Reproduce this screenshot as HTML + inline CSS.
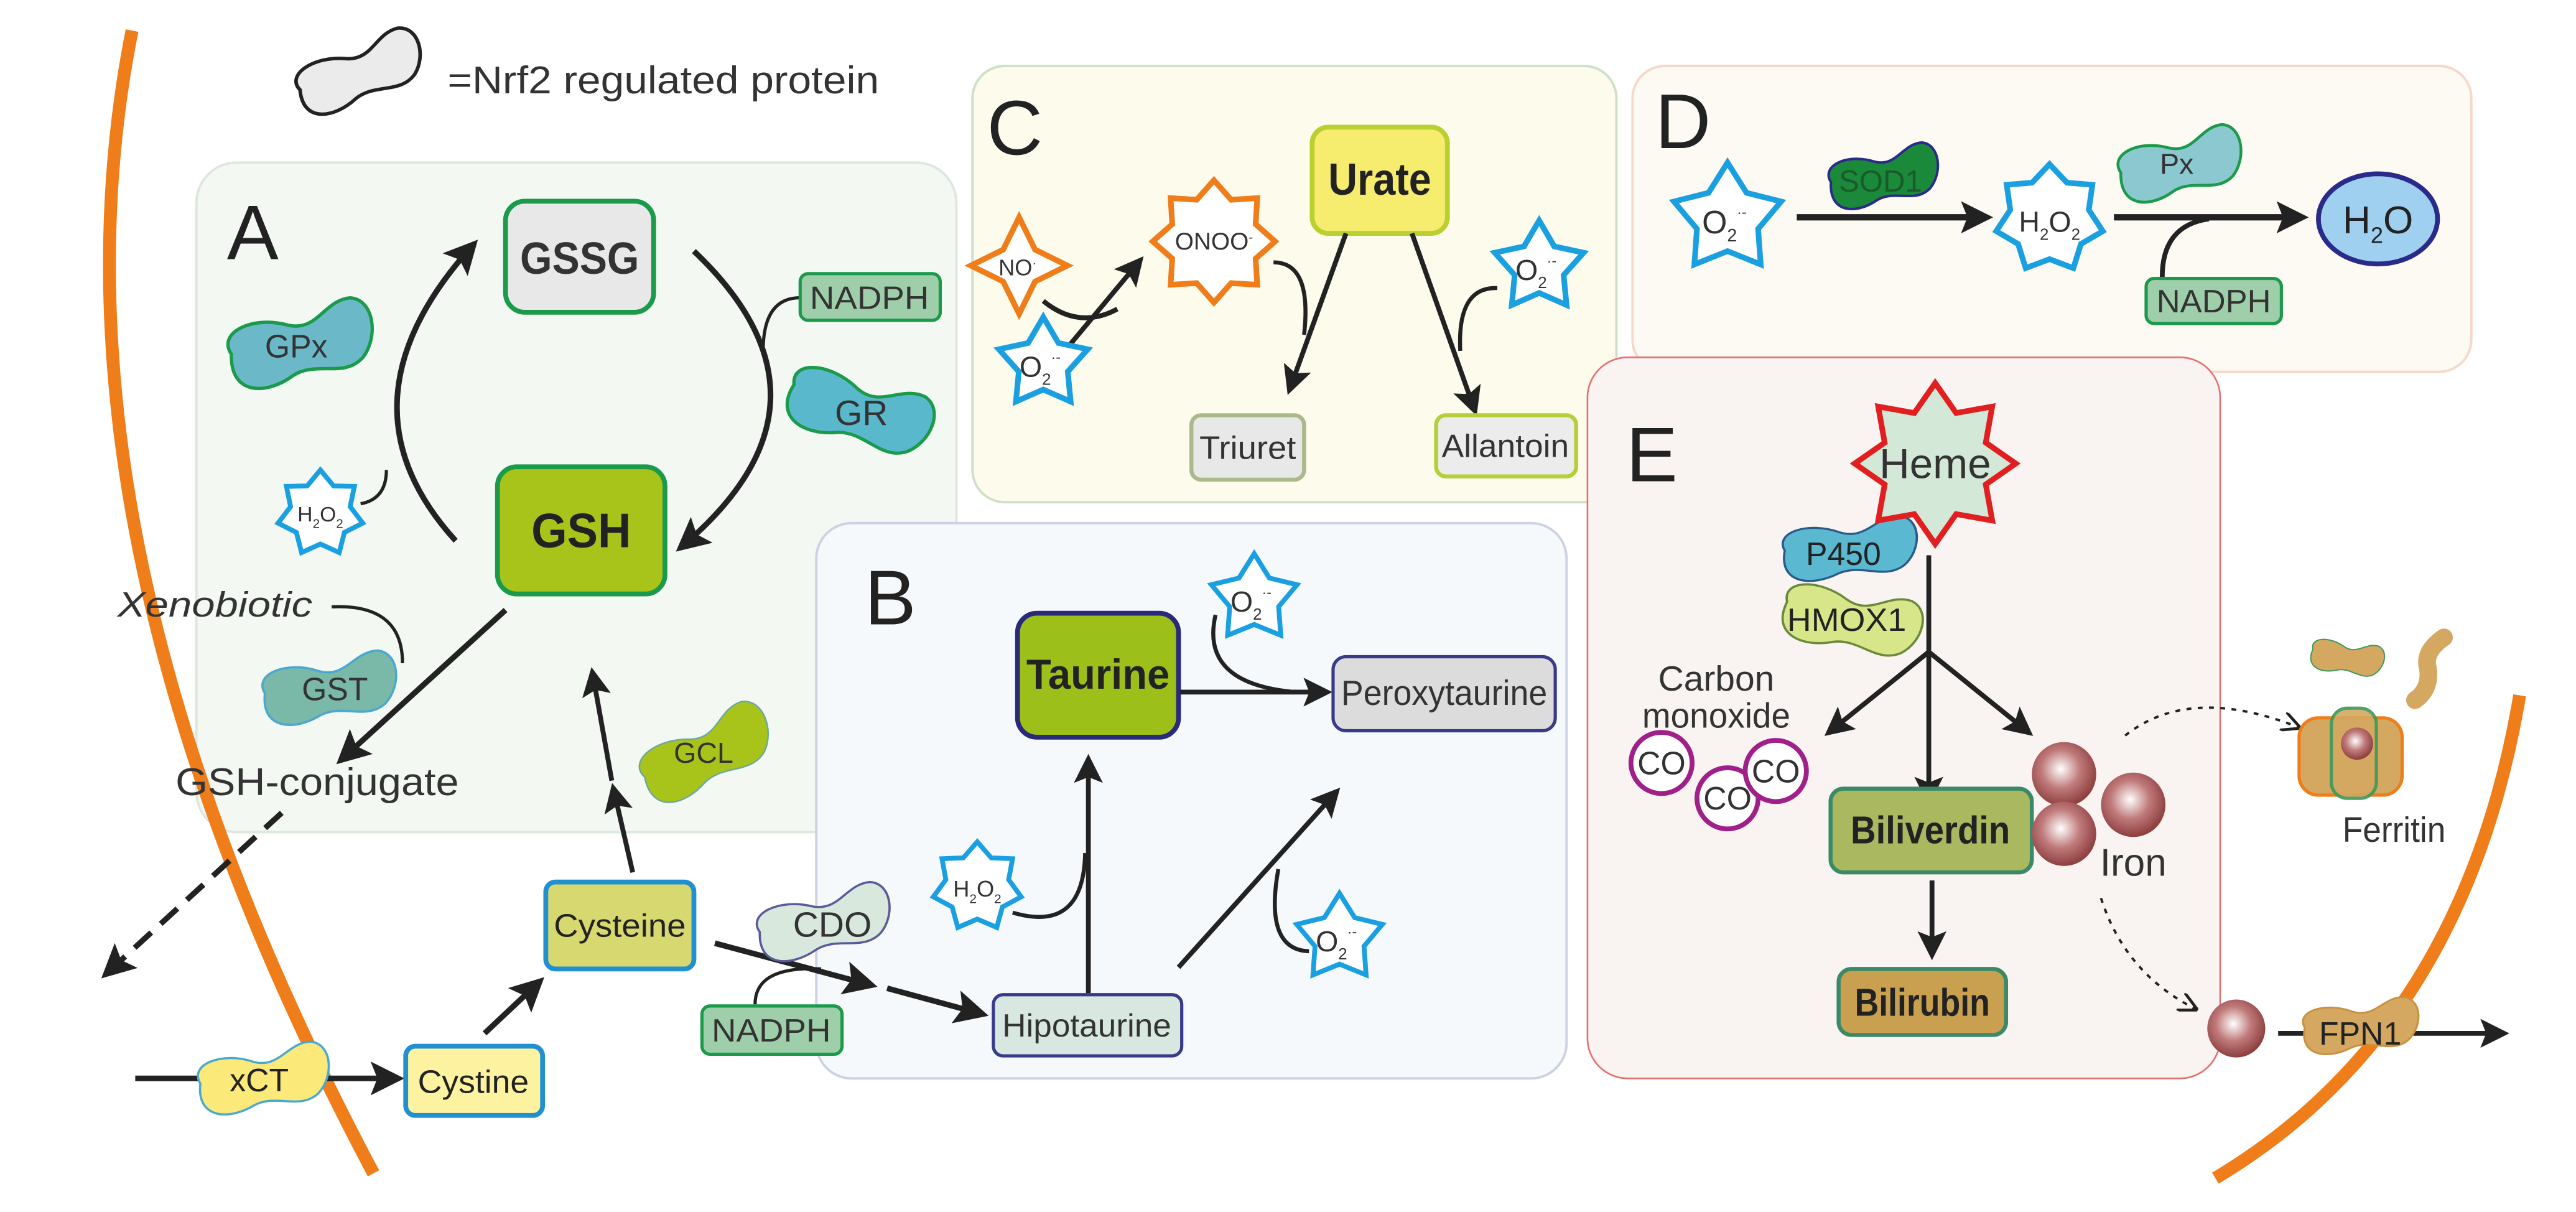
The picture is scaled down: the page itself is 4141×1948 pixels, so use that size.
<!DOCTYPE html>
<html><head><meta charset="utf-8"><style>
html,body{margin:0;padding:0;background:#fff;}
svg{display:block;font-family:"Liberation Sans",Arial,sans-serif;}
</style></head><body>
<svg id="s" width="4141" height="1948" viewBox="0 0 1600 753" preserveAspectRatio="none" xmlns="http://www.w3.org/2000/svg">
<defs>
<marker id="ah" viewBox="0 0 10 10" refX="8" refY="5" markerWidth="6" markerHeight="6" orient="auto" markerUnits="strokeWidth"><path d="M0,0 L10,5 L0,10 L2,5 Z" fill="#222"/></marker>
<marker id="ahs" viewBox="0 0 10 10" refX="8" refY="5" markerWidth="5" markerHeight="5" orient="auto" markerUnits="strokeWidth"><path d="M0,0 L10,5 L0,10 L2,5 Z" fill="#222"/></marker>
<marker id="ahd" viewBox="0 0 10 10" refX="9" refY="5" markerWidth="8" markerHeight="8" orient="auto" markerUnits="strokeWidth"><path d="M0,0 L10,5 L0,10" fill="none" stroke="#222" stroke-width="1.5"/></marker>
<radialGradient id="fe" cx="0.45" cy="0.42" r="0.6"><stop offset="0" stop-color="#fff"/><stop offset="0.5" stop-color="#c07a7a"/><stop offset="1" stop-color="#8a3a3a"/></radialGradient>
<path id="blob" d="M8,22 C2,8 25,2 45,12 C62,20 70,2 86,4 C100,8 98,30 86,40 C72,50 58,36 42,42 C24,50 2,46 8,22 Z"/>
</defs>

<rect x="122" y="101" width="472" height="416" rx="25" fill="#f3f8f3" stroke="#dde8dd" stroke-width="1.5"/>
<rect x="507" y="325" width="466" height="345" rx="22" fill="#f5f9fc" stroke="#cdd2e3" stroke-width="1.5"/>
<rect x="604" y="41" width="400" height="271" rx="20" fill="#fdfbeb" stroke="#cfe0c8" stroke-width="1.5"/>
<rect x="1014" y="41" width="521" height="190" rx="20" fill="#fdfaf3" stroke="#f5d8c8" stroke-width="1.5"/>
<rect x="986" y="222" width="393" height="448" rx="25" fill="#f9f3f1" stroke="#e07070" stroke-width="1"/>

<path d="M82,19 Q20,330 232,729" fill="none" stroke="#ee7d1a" stroke-width="8"/>
<path d="M1565,432 Q1530,640 1376,732" fill="none" stroke="#ee7d1a" stroke-width="8"/>

<use href="#blob" transform="translate(178,24) rotate(-20 45 22) scale(0.9,0.85)" fill="#ebebeb" stroke="#222" stroke-width="2.5" vector-effect="non-scaling-stroke"/>
<text x="278" y="58" font-size="24" fill="#333" textLength="268" lengthAdjust="spacingAndGlyphs">=Nrf2 regulated protein</text>

<g font-size="48" fill="#222"><text x="141" y="161">A</text><text x="537" y="388">B</text><text x="613" y="96">C</text><text x="1028" y="92">D</text><text x="1010" y="299">E</text></g>

<rect x="314" y="125" width="92" height="69" rx="12" fill="#e8e8e8" stroke="#1a9a4a" stroke-width="3"/>
<text x="360" y="170" font-size="28" font-weight="bold" text-anchor="middle" fill="#333" textLength="74" lengthAdjust="spacingAndGlyphs">GSSG</text>
<rect x="309" y="290" width="104" height="79" rx="12" fill="#a8c41a" stroke="#1a9a4a" stroke-width="3"/>
<text x="361" y="340" font-size="30" font-weight="bold" text-anchor="middle" fill="#222" textLength="62" lengthAdjust="spacingAndGlyphs">GSH</text>
<path d="M283,336 Q205,250 294,152" fill="none" stroke="#222" stroke-width="3.5" marker-end="url(#ah)"/>
<path d="M431,156 Q530,250 423,340" fill="none" stroke="#222" stroke-width="3.5" marker-end="url(#ah)"/>
<path d="M224,313 Q240,310 240,292" fill="none" stroke="#222" stroke-width="2"/>
<path d="M497,185 Q474,185 474,218" fill="none" stroke="#222" stroke-width="2"/>
<use href="#blob" transform="translate(135,188) rotate(-12 51 25) scale(1.02,1.05)" fill="#6ab8c8" stroke="#1a9a4a" stroke-width="2" vector-effect="non-scaling-stroke"/>
<text x="184" y="222" font-size="20" text-anchor="middle" fill="#333">GPx</text>
<rect x="497" y="170" width="87" height="29" rx="5" fill="#9fcfaa" stroke="#1a9a4a" stroke-width="2"/>
<text x="540" y="192" font-size="20" text-anchor="middle" fill="#333" textLength="74" lengthAdjust="spacingAndGlyphs">NADPH</text>
<use href="#blob" transform="translate(482,230) rotate(18 51 25) scale(1.02,1.0)" fill="#5ab8cc" stroke="#1a9a4a" stroke-width="2" vector-effect="non-scaling-stroke"/>
<text x="535" y="264" font-size="22" text-anchor="middle" fill="#333">GR</text>

<text x="73" y="383" font-size="22" font-style="italic" fill="#333" textLength="121" lengthAdjust="spacingAndGlyphs">Xenobiotic</text>
<path d="M206,377 Q250,375 250,412" fill="none" stroke="#222" stroke-width="2"/>
<path d="M314,379 L212,472" fill="none" stroke="#222" stroke-width="3.5" marker-end="url(#ah)"/>
<use href="#blob" transform="translate(157,405) rotate(-8 47 23) scale(0.94,0.92)" fill="#7ab8a8" stroke="#4aa8d0" stroke-width="1.5" vector-effect="non-scaling-stroke"/>
<text x="208" y="435" font-size="20" text-anchor="middle" fill="#333">GST</text>
<text x="109" y="494" font-size="24" fill="#333" textLength="176" lengthAdjust="spacingAndGlyphs">GSH-conjugate</text>
<path d="M175,505 L66,605" fill="none" stroke="#222" stroke-width="3.5" stroke-dasharray="14,8" marker-end="url(#ah)"/>

<path d="M84,670 L247,670" fill="none" stroke="#222" stroke-width="3.5" marker-end="url(#ah)"/>
<use href="#blob" transform="translate(117,648) rotate(-8 46 22) scale(0.92,0.9)" fill="#fbe97a" stroke="#4aa8d0" stroke-width="1.5" vector-effect="non-scaling-stroke"/>
<text x="161" y="678" font-size="20" text-anchor="middle" fill="#222">xCT</text>
<rect x="252" y="650" width="85" height="43" rx="6" fill="#fcf2a0" stroke="#2090d0" stroke-width="3"/>
<text x="294" y="679" font-size="20" text-anchor="middle" fill="#222" textLength="69" lengthAdjust="spacingAndGlyphs">Cystine</text>
<path d="M301,642 L335,610" fill="none" stroke="#222" stroke-width="3.5" marker-end="url(#ah)"/>
<rect x="339" y="548" width="92" height="54" rx="6" fill="#d8d870" stroke="#2090d0" stroke-width="3"/>
<text x="385" y="582" font-size="20" text-anchor="middle" fill="#222" textLength="82" lengthAdjust="spacingAndGlyphs">Cysteine</text>
<path d="M393,542 L381,490" fill="none" stroke="#222" stroke-width="3" marker-end="url(#ah)"/>
<path d="M380,485 L368,418" fill="none" stroke="#222" stroke-width="3" marker-end="url(#ah)"/>
<use href="#blob" transform="translate(390,445) rotate(-25 47 23) scale(0.95,0.95)" fill="#a8c41a" stroke="#6aa8a0" stroke-width="1" vector-effect="non-scaling-stroke"/>
<text x="437" y="474" font-size="18" text-anchor="middle" fill="#333">GCL</text>
<path d="M444,586 L541,612" fill="none" stroke="#222" stroke-width="3.5" marker-end="url(#ah)"/>
<path d="M551,614 L610,630" fill="none" stroke="#222" stroke-width="3.5" marker-end="url(#ah)"/>
<path d="M469,624 Q469,600 510,602" fill="none" stroke="#222" stroke-width="2"/>
<use href="#blob" transform="translate(464,551) rotate(-12 47 22) scale(0.94,0.9)" fill="#d8e8dc" stroke="#5a5a9a" stroke-width="1.5" vector-effect="non-scaling-stroke"/>
<text x="517" y="582" font-size="22" text-anchor="middle" fill="#333">CDO</text>
<rect x="436" y="625" width="87" height="30" rx="5" fill="#9fcfaa" stroke="#1a9a4a" stroke-width="2"/>
<text x="479" y="647" font-size="20" text-anchor="middle" fill="#333" textLength="74" lengthAdjust="spacingAndGlyphs">NADPH</text>

<rect x="632" y="381" width="100" height="77" rx="12" fill="#9cbf1a" stroke="#2a2a7a" stroke-width="3"/>
<text x="682" y="428" font-size="26" font-weight="bold" text-anchor="middle" fill="#222" textLength="89" lengthAdjust="spacingAndGlyphs">Taurine</text>
<path d="M733,430 L824,430" fill="none" stroke="#222" stroke-width="3" marker-end="url(#ah)"/>
<path d="M755,382 Q745,425 805,430" fill="none" stroke="#222" stroke-width="2.5"/>
<rect x="828" y="408" width="138" height="46" rx="8" fill="#dcdcdc" stroke="#3a3a8a" stroke-width="2"/>
<text x="897" y="438" font-size="22" text-anchor="middle" fill="#333" textLength="128" lengthAdjust="spacingAndGlyphs">Peroxytaurine</text>
<rect x="617" y="618" width="117" height="38" rx="6" fill="#d8e8e0" stroke="#3a3a8a" stroke-width="2"/>
<text x="675" y="644" font-size="20" text-anchor="middle" fill="#333" textLength="105" lengthAdjust="spacingAndGlyphs">Hipotaurine</text>
<path d="M676,617 L676,472" fill="none" stroke="#222" stroke-width="3" marker-end="url(#ah)"/>
<path d="M629,567 Q673,580 674,530" fill="none" stroke="#222" stroke-width="2.5"/>
<path d="M732,601 L830,492" fill="none" stroke="#222" stroke-width="3" marker-end="url(#ah)"/>
<path d="M813,591 Q785,590 794,540" fill="none" stroke="#222" stroke-width="2.5"/>

<path d="M648,187 Q670,205 694,192" fill="none" stroke="#222" stroke-width="3"/>
<path d="M663,216 L708,162" fill="none" stroke="#222" stroke-width="3" marker-end="url(#ah)"/>
<rect x="815" y="79" width="84" height="66" rx="10" fill="#f6ec6e" stroke="#b9d030" stroke-width="3"/>
<text x="857" y="121" font-size="28" font-weight="bold" text-anchor="middle" fill="#222" textLength="64" lengthAdjust="spacingAndGlyphs">Urate</text>
<path d="M836,145 L801,242" fill="none" stroke="#222" stroke-width="3" marker-end="url(#ah)"/>
<path d="M791,163 Q815,163 810,208" fill="none" stroke="#222" stroke-width="2.5"/>
<path d="M877,145 L916,255" fill="none" stroke="#222" stroke-width="3" marker-end="url(#ah)"/>
<path d="M930,179 Q905,178 907,218" fill="none" stroke="#222" stroke-width="2.5"/>
<rect x="740" y="258" width="70" height="40" rx="6" fill="#e8e8e8" stroke="#a9b98a" stroke-width="2.5"/>
<text x="775" y="285" font-size="20" text-anchor="middle" fill="#333" textLength="60" lengthAdjust="spacingAndGlyphs">Triuret</text>
<rect x="892" y="258" width="87" height="38" rx="6" fill="#ececec" stroke="#b5cf3a" stroke-width="2.5"/>
<text x="935" y="284" font-size="20" text-anchor="middle" fill="#333" textLength="79" lengthAdjust="spacingAndGlyphs">Allantoin</text>

<path d="M1116,135 L1234,135" fill="none" stroke="#222" stroke-width="4" marker-end="url(#ahs)"/>
<use href="#blob" transform="translate(1131,90) rotate(-10 38 20) scale(0.77,0.8)" fill="#1a8a3a" stroke="#2a2a8a" stroke-width="2" vector-effect="non-scaling-stroke"/>
<text x="1168" y="119" font-size="19" text-anchor="middle" fill="#1a5a2a">SOD1</text>
<path d="M1313,135 L1430,135" fill="none" stroke="#222" stroke-width="4" marker-end="url(#ahs)"/>
<path d="M1343,172 Q1343,140 1372,136" fill="none" stroke="#222" stroke-width="3"/>
<use href="#blob" transform="translate(1310,80) rotate(-12 43 22) scale(0.87,0.9)" fill="#8cc8d0" stroke="#1a9a4a" stroke-width="2" vector-effect="non-scaling-stroke"/>
<text x="1352" y="108" font-size="18" text-anchor="middle" fill="#333">Px</text>
<rect x="1333" y="173" width="84" height="28" rx="5" fill="#9fcfaa" stroke="#1a9a4a" stroke-width="2"/>
<text x="1375" y="194" font-size="20" text-anchor="middle" fill="#333" textLength="71" lengthAdjust="spacingAndGlyphs">NADPH</text>
<ellipse cx="1477" cy="136" rx="37" ry="28" fill="#a0d0f0" stroke="#2a2a8a" stroke-width="3"/>
<text x="1477" y="145" font-size="24" text-anchor="middle" fill="#222">H<tspan font-size="14" dy="6">2</tspan><tspan dy="-6">O</tspan></text>

<path d="M1198,345 L1198,497" fill="none" stroke="#222" stroke-width="3" marker-end="url(#ah)"/>
<path d="M1198,405 L1136,455" fill="none" stroke="#222" stroke-width="3" marker-end="url(#ah)"/>
<path d="M1198,405 L1260,455" fill="none" stroke="#222" stroke-width="3" marker-end="url(#ah)"/>
<use href="#blob" transform="translate(1101,320) rotate(-5 47 20) scale(0.94,0.85)" fill="#5ab8d0" stroke="#2a5a8a" stroke-width="1.5" vector-effect="non-scaling-stroke"/>
<text x="1145" y="351" font-size="20" text-anchor="middle" fill="#222">P450</text>
<use href="#blob" transform="translate(1101,362) rotate(12 48 22) scale(0.97,0.92)" fill="#d8e68a" stroke="#6a8a3a" stroke-width="1.5" vector-effect="non-scaling-stroke"/>
<text x="1147" y="392" font-size="20" text-anchor="middle" fill="#222" textLength="74" lengthAdjust="spacingAndGlyphs">HMOX1</text>
<text x="1066" y="429" font-size="22" text-anchor="middle" fill="#333">Carbon</text>
<text x="1066" y="452" font-size="22" text-anchor="middle" fill="#333" textLength="92" lengthAdjust="spacingAndGlyphs">monoxide</text>
<g fill="#fff" stroke="#a0208a" stroke-width="3">
<circle cx="1032" cy="474" r="19"/><circle cx="1073" cy="496" r="19"/><circle cx="1103" cy="479" r="19"/>
</g>
<g font-size="20" fill="#333" text-anchor="middle"><text x="1032" y="481">CO</text><text x="1073" y="503">CO</text><text x="1103" y="486">CO</text></g>
<rect x="1137" y="490" width="125" height="52" rx="8" fill="#aab860" stroke="#3a8a6a" stroke-width="2.5"/>
<text x="1199" y="524" font-size="24" font-weight="bold" text-anchor="middle" fill="#222" textLength="99" lengthAdjust="spacingAndGlyphs">Biliverdin</text>
<path d="M1200,547 L1200,593" fill="none" stroke="#222" stroke-width="3" marker-end="url(#ah)"/>
<rect x="1142" y="602" width="104" height="41" rx="8" fill="#c8a050" stroke="#3a8a6a" stroke-width="2.5"/>
<text x="1194" y="631" font-size="24" font-weight="bold" text-anchor="middle" fill="#222" textLength="84" lengthAdjust="spacingAndGlyphs">Bilirubin</text>
<circle cx="1282" cy="481" r="20" fill="url(#fe)"/><circle cx="1282" cy="518" r="20" fill="url(#fe)"/><circle cx="1325" cy="500" r="20" fill="url(#fe)"/>
<text x="1325" y="544" font-size="24" text-anchor="middle" fill="#333">Iron</text>
<path d="M1320,457 Q1360,425 1428,452" fill="none" stroke="#222" stroke-width="1.5" stroke-dasharray="3,4" marker-end="url(#ahd)"/>
<path d="M1305,558 Q1320,605 1364,627" fill="none" stroke="#222" stroke-width="1.5" stroke-dasharray="3,4" marker-end="url(#ahd)"/>
<use href="#blob" transform="translate(1432,396) rotate(10 25 12) scale(0.51,0.5)" fill="#d4a860" stroke="#3a9a5a" stroke-width="1.5" vector-effect="non-scaling-stroke"/>
<path d="M1518,396 Q1505,405 1508,415 Q1510,428 1500,435" fill="none" stroke="#d4a860" stroke-width="11" stroke-linecap="round"/>
<rect x="1428" y="446" width="64" height="48" rx="12" fill="#d4a860" stroke="#ee7d1a" stroke-width="2"/>
<rect x="1448" y="440" width="28" height="56" rx="10" fill="#d4a860" stroke="#3a9a5a" stroke-width="2" opacity="0.9"/>
<circle cx="1464" cy="462" r="10" fill="url(#fe)"/>
<text x="1487" y="523" font-size="22" text-anchor="middle" fill="#333" textLength="64" lengthAdjust="spacingAndGlyphs">Ferritin</text>
<circle cx="1389" cy="639" r="18" fill="url(#fe)"/>
<path d="M1415,642 L1555,642" fill="none" stroke="#222" stroke-width="3" marker-end="url(#ah)"/>
<use href="#blob" transform="translate(1425,619) rotate(-5 40 18) scale(0.81,0.75)" fill="#d4a860" stroke="#c89040" stroke-width="1.5" vector-effect="non-scaling-stroke"/>
<text x="1466" y="649" font-size="20" text-anchor="middle" fill="#222">FPN1</text>

<g id="stars"></g>
<g font-size="13" fill="#333" text-anchor="middle">
<text x="199" y="324" font-size="13">H<tspan font-size="8" dy="4">2</tspan><tspan dy="-4">O</tspan><tspan font-size="8" dy="4">2</tspan></text>
<text x="632" y="171" font-size="14">NO<tspan dy="-5" font-size="8">·</tspan></text>
<text x="754" y="155" font-size="15">ONOO<tspan dy="-5" font-size="8">-</tspan></text>
<text x="646" y="234" font-size="18">O<tspan font-size="10" dy="5">2</tspan><tspan font-size="9" dy="-14">·-</tspan></text>
<text x="954" y="174" font-size="18">O<tspan font-size="10" dy="5">2</tspan><tspan font-size="9" dy="-14">·-</tspan></text>
<text x="1071" y="145" font-size="20">O<tspan font-size="11" dy="5">2</tspan><tspan font-size="9" dy="-15">·-</tspan></text>
<text x="1273" y="144" font-size="18">H<tspan font-size="10" dy="5">2</tspan><tspan dy="-5">O</tspan><tspan font-size="10" dy="5">2</tspan></text>
<text x="777" y="380" font-size="18">O<tspan font-size="10" dy="5">2</tspan><tspan font-size="9" dy="-14">·-</tspan></text>
<text x="607" y="557" font-size="14">H<tspan font-size="8" dy="4">2</tspan><tspan dy="-4">O</tspan><tspan font-size="8" dy="4">2</tspan></text>
<text x="830" y="591" font-size="18">O<tspan font-size="10" dy="5">2</tspan><tspan font-size="9" dy="-14">·-</tspan></text>
<text x="1202" y="297" font-size="26">Heme</text>
</g>
</svg>
<script>
(function(){
var g=document.getElementById('stars'),ns='http://www.w3.org/2000/svg';
function star(cx,cy,ro,ri,n,fill,stroke,sw,rot){
 var p=[];for(var i=0;i<2*n;i++){var a=(rot||-90)*Math.PI/180+i*Math.PI/n;var r=i%2?ri:ro;p.push((cx+r*Math.cos(a)).toFixed(1)+','+(cy+r*Math.sin(a)).toFixed(1));}
 var e=document.createElementNS(ns,'polygon');e.setAttribute('points',p.join(' '));e.setAttribute('fill',fill);e.setAttribute('stroke',stroke);e.setAttribute('stroke-width',sw);g.appendChild(e);}
var B='#1aa0e0';
star(199,319,27,19,7,'#fff',B,3);
star(607,551,28,20,7,'#fff',B,3);
star(1273,136,34,25,7,'#fff',B,3.5);
star(648,226,29,16,5,'#fff',B,3.5);
star(956,166,29,16,5,'#fff',B,3.5);
star(1073,136,35,20,5,'#fff',B,3.5);
star(779,372,28,16,5,'#fff',B,3);
star(832,583,28,16,5,'#fff',B,3);
star(633,165,30,14,4,'#fff','#ee7d1a',3.5);
star(754,150,38,28,8,'#fff','#ee7d1a',3.5);
star(1202,288,50,34,8,'#d4e8d8','#e02020',3.5);
})();
</script>
</body></html>
